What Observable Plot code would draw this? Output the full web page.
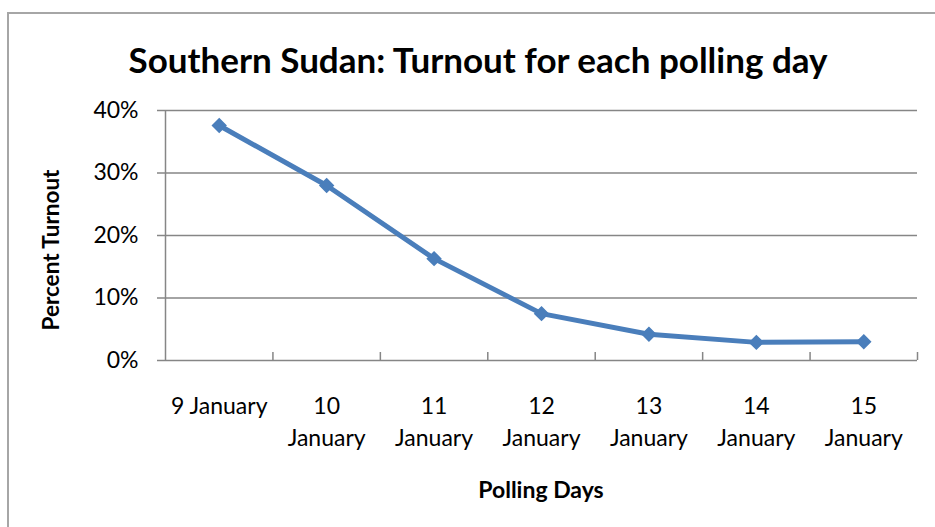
<!DOCTYPE html>
<html><head><meta charset="utf-8">
<script src="https://cdn.jsdelivr.net/npm/d3@7"></script>
<script src="https://cdn.jsdelivr.net/npm/@observablehq/plot@0.6"></script>
<style>
body{margin:0;background:#fff;}
#wrap{position:relative;width:935px;height:527px;overflow:hidden;font-family:Lato,sans-serif;color:#000;}
#border{position:absolute;left:7px;top:12px;width:960px;height:560px;border:2px solid #a6a6a6;}
#chart{position:absolute;left:0;top:0;}
#title{position:absolute;left:478px;top:59px;transform:translate(-50%,-50%);font-weight:bold;font-size:35px;white-space:nowrap;}
#ytitle{position:absolute;left:50px;top:250px;transform:translate(-50%,-50%) rotate(-90deg);font-weight:bold;font-size:22.5px;white-space:nowrap;}
#xtitle{position:absolute;left:541px;top:489px;transform:translate(-50%,-50%);font-weight:bold;font-size:23px;white-space:nowrap;}
</style></head><body>
<div id="wrap">
<div id="border"></div>
<div id="chart"></div>
<div id="title">Southern Sudan: Turnout for each polling day</div>
<div id="ytitle">Percent Turnout</div>
<div id="xtitle">Polling Days</div>
</div>
<script>
const days = [9, 10, 11, 12, 13, 14, 15];
const dayLabels = ["9 January", "10\nJanuary", "11\nJanuary", "12\nJanuary", "13\nJanuary", "14\nJanuary", "15\nJanuary"];
const turnout = [37.6, 28.0, 16.3, 7.5, 4.2, 2.9, 3.0];
const yTicks = [0, 10, 20, 30, 40];

const data = days.map((d, i) => ({day: d, label: dayLabels[i], turnout: turnout[i]}));
const boundaries = days.map(d => d + 0.5);

const chart = Plot.plot({
  width: 935, height: 527,
  marginTop: 110, marginBottom: 167, marginLeft: 165, marginRight: 18,
  style: {fontFamily: "Lato, sans-serif", fontSize: "23px", color: "#000", background: "transparent", overflow: "visible"},
  x: {type: "linear", domain: [days[0] - 0.5, days[days.length - 1] + 0.5]},
  y: {domain: [0, 40]},
  marks: [
    Plot.gridY(yTicks, {stroke: "#868686", strokeOpacity: 1, strokeWidth: 1.5}),
    Plot.ruleX([days[0] - 0.5], {stroke: "#868686", strokeWidth: 1.5}),
    Plot.axisY({ticks: yTicks, tickFormat: d => d + "%", tickSize: 8, tickPadding: 19, stroke: "#868686", strokeWidth: 1.5, fontSize: 23, label: null}),
    Plot.axisX({ticks: boundaries, tickSize: -8, tickFormat: () => "", stroke: "#868686", strokeWidth: 1.5, label: null}),
    Plot.axisX({ticks: days, tickSize: 0, tickPadding: 31, tickFormat: d => dayLabels[days.indexOf(d)], lineHeight: 1.39, fontSize: 23, label: null}),
    Plot.line(data, {x: "day", y: "turnout", stroke: "#4a7ebb", strokeWidth: 5}),
    Plot.dot(data, {x: "day", y: "turnout", symbol: "diamond2", r: 6, fill: "#4a7ebb", stroke: "#4a7ebb"})
  ]
});
document.getElementById("chart").appendChild(chart);
</script>
</body></html>
